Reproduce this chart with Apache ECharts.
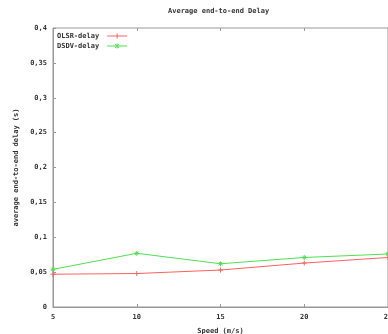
<!DOCTYPE html>
<html><head><meta charset="utf-8">
<script src="https://cdn.jsdelivr.net/npm/echarts@6/dist/echarts.min.js"></script>
<style>html,body{margin:0;padding:0;background:#fff}#c{width:388px;height:334px}</style>
</head><body><div id="c"></div>
<script>
var speeds = [5, 10, 15, 20, 25];
var olsrDelay = [0.047, 0.048, 0.053, 0.063, 0.071];
var dsdvDelay = [0.054, 0.077, 0.062, 0.071, 0.076];
var seriesNames = ['OLSR-delay', 'DSDV-delay'];
var titleText = 'Average end-to-end Delay';
var xName = 'Speed (m/s)';
var yName = 'average end-to-end delay (s)';

var font = 'DejaVu Sans Mono';
var txt = {fontFamily: font, fontSize: 7, fontWeight: 'bold', color: '#333'};
var red = '#ff6060', green = '#50e050';
var plusPath = 'path://M0,5L10,5M5,0L5,10';
var crossPath = 'path://M0,5L10,5M5,0L5,10M1.5,1.5L8.5,8.5M8.5,1.5L1.5,8.5';
var plusIcon = 'path://M0,3L20,3M10,0.5L10,5.5';
var crossIcon = 'path://M0,3L20,3M10,0.5L10,5.5M8,1L12,5M12,1L8,5';
var chart = echarts.init(document.getElementById('c'));
chart.setOption({
  animation: false,
  backgroundColor: '#fff',
  title: {text: titleText, left: 168, top: 8, padding: 0, textStyle: Object.assign({}, txt)},
  legend: {
    left: 57, top: 31, padding: 0, orient: 'vertical', align: 'right', itemGap: 0,
    itemWidth: 20, itemHeight: 6, textStyle: Object.assign({}, txt, {padding: [0, 3, 0, 0], lineHeight: 8}),
    data: [
      {name: seriesNames[0], icon: plusIcon, itemStyle: {color: 'none', borderColor: red, borderWidth: 1}},
      {name: seriesNames[1], icon: crossIcon, itemStyle: {color: 'none', borderColor: green, borderWidth: 1}}
    ]
  },
  grid: {left: 53, top: 28, right: 0, bottom: 27, show: true, borderColor: '#999', borderWidth: 1,
         outerBoundsMode: 'none', containLabel: false},
  xAxis: [{
    type: 'value', min: 5, max: 25, interval: 5,
    name: xName, nameLocation: 'middle', nameGap: 21, nameTextStyle: Object.assign({}, txt),
    axisLine: {lineStyle: {color: '#999'}},
    axisTick: {inside: true, length: 3, lineStyle: {color: '#999'}},
    axisLabel: Object.assign({}, txt, {margin: 7}),
    splitLine: {show: false}
  }, {
    type: 'value', position: 'top', min: 5, max: 25, interval: 5,
    axisLine: {show: false}, axisLabel: {show: false},
    axisTick: {inside: true, length: 3, lineStyle: {color: '#999'}},
    splitLine: {show: false}
  }],
  yAxis: {
    type: 'value', min: 0, max: 0.4, interval: 0.05,
    name: yName, nameLocation: 'middle', nameGap: 31, nameRotate: 90,
    nameTextStyle: Object.assign({}, txt),
    axisLine: {lineStyle: {color: '#999'}},
    axisTick: {inside: true, length: 3, lineStyle: {color: '#999'}},
    axisLabel: Object.assign({}, txt, {margin: 6, formatter: function (v) {
      if (v === 0) return '0';
      return String(Math.round(v * 100) / 100).replace('.', ',');
    }}),
    splitLine: {show: false}
  },
  series: [{
    name: seriesNames[0], type: 'line',
    data: speeds.map(function (s, i) { return [s, olsrDelay[i]]; }),
    symbol: plusPath, symbolSize: 5,
    lineStyle: {color: red, width: 1},
    itemStyle: {color: red, borderColor: red, borderWidth: 1}
  }, {
    name: seriesNames[1], type: 'line',
    data: speeds.map(function (s, i) { return [s, dsdvDelay[i]]; }),
    symbol: crossPath, symbolSize: 5,
    lineStyle: {color: green, width: 1},
    itemStyle: {color: green, borderColor: green, borderWidth: 1}
  }]
});
</script></body></html>
